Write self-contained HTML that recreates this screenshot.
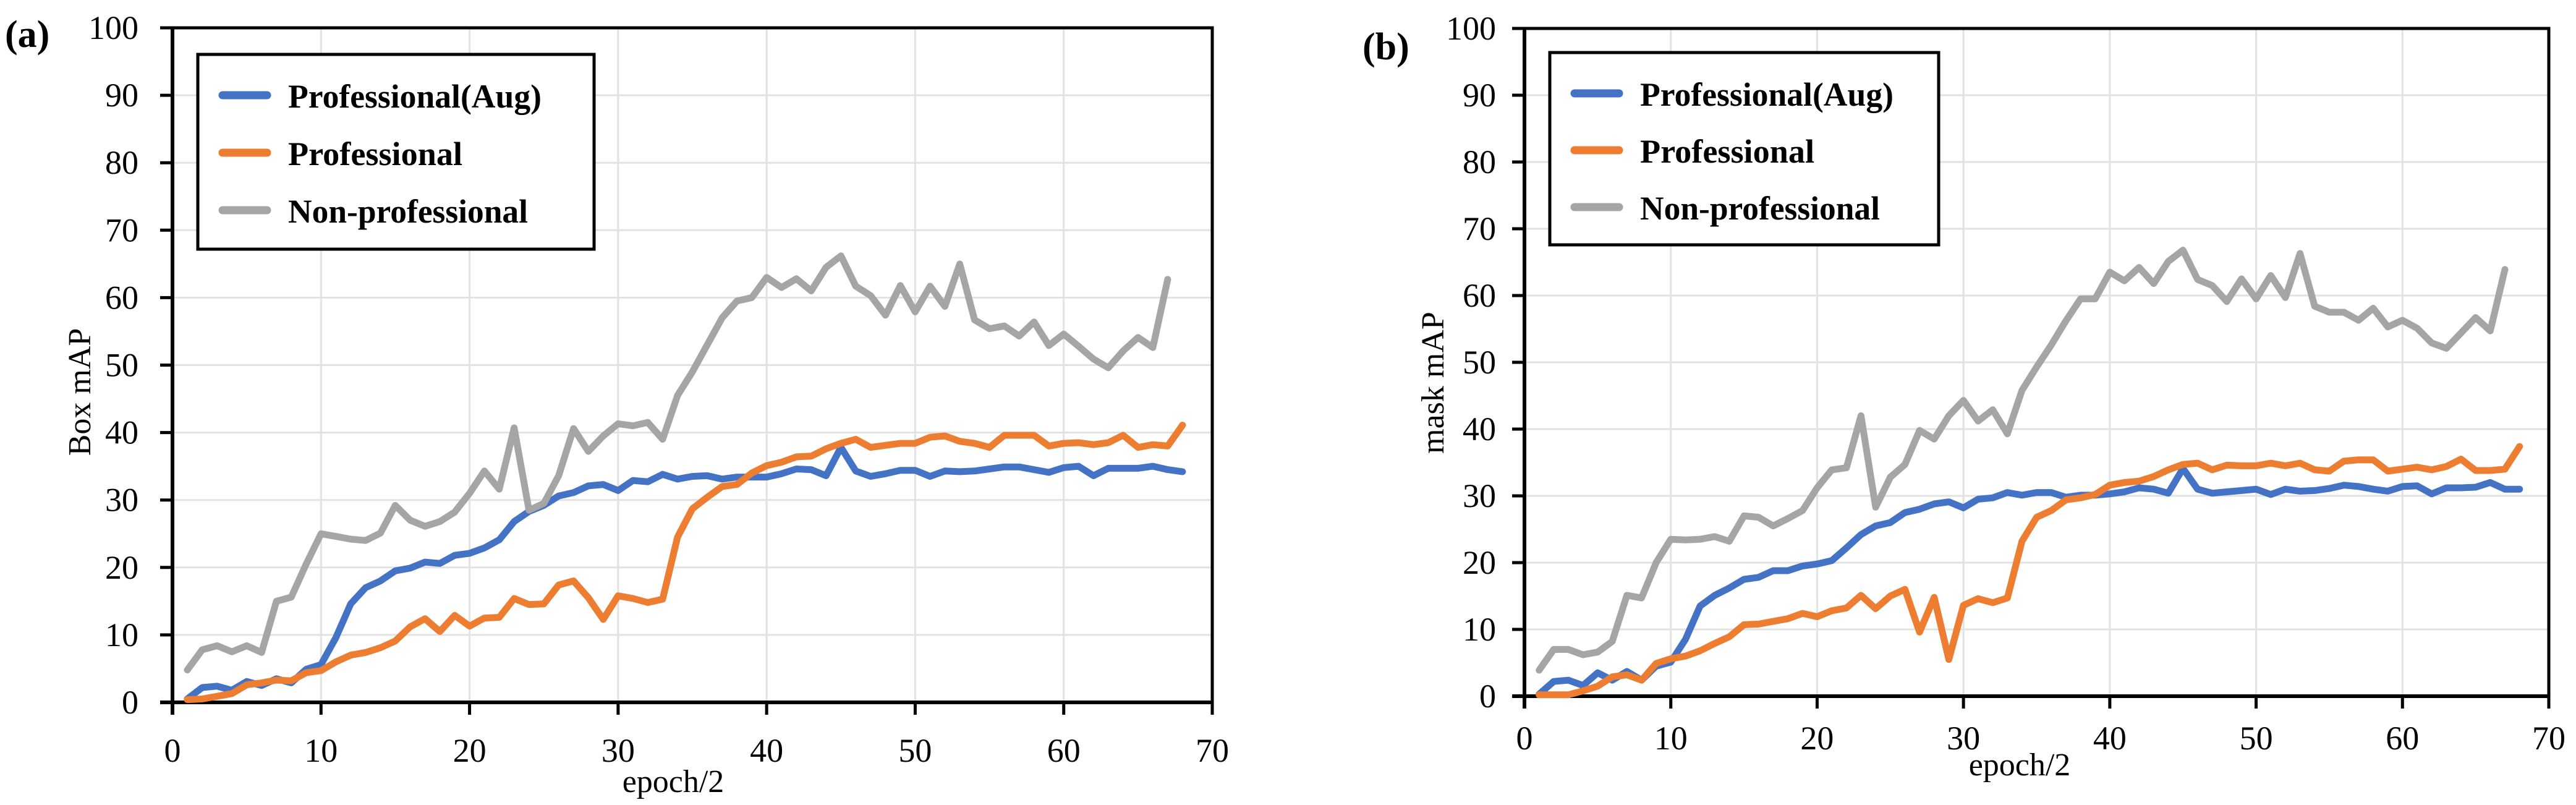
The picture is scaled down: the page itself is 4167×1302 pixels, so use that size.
<!DOCTYPE html>
<html><head><meta charset="utf-8">
<style>
html,body{margin:0;padding:0;background:#fff;}
svg{display:block;}
text{font-family:"Liberation Serif",serif;fill:#000;}
</style></head>
<body>
<svg id="fig" width="4167" height="1302" viewBox="0 0 4167 1302" xmlns="http://www.w3.org/2000/svg"></svg>
<script>
const xTicks=[0,10,20,30,40,50,60,70];
const yTicks=[0,10,20,30,40,50,60,70,80,90,100];
const seriesNames=["Professional(Aug)","Professional","Non-professional"];
const boxAug=[0.5,2.2,2.4,1.8,3.1,2.5,3.5,2.9,4.9,5.6,9.6,14.6,17,18,19.5,19.9,20.8,20.6,21.8,22.1,22.9,24.1,26.8,28.3,29.2,30.6,31.1,32.1,32.3,31.4,32.9,32.7,33.8,33.1,33.5,33.6,33.1,33.4,33.4,33.4,33.9,34.6,34.5,33.6,37.8,34.3,33.5,33.9,34.4,34.4,33.5,34.3,34.2,34.3,34.6,34.9,34.9,34.5,34.1,34.8,35.0,33.6,34.7,34.7,34.7,35.0,34.5,34.2];
const boxPro=[0.4,0.5,0.9,1.3,2.6,2.9,3.3,3.2,4.4,4.7,6,7,7.4,8.1,9.1,11.2,12.4,10.5,12.9,11.3,12.5,12.6,15.4,14.5,14.6,17.4,18,15.5,12.3,15.8,15.4,14.8,15.3,24.5,28.7,30.4,32,32.3,34,35.1,35.6,36.4,36.5,37.6,38.4,39.0,37.8,38.1,38.4,38.4,39.3,39.5,38.7,38.4,37.8,39.6,39.6,39.6,38.0,38.4,38.5,38.2,38.5,39.6,37.8,38.2,38.0,41.1];
const boxNon=[4.8,7.8,8.4,7.5,8.4,7.4,15,15.6,20.5,25,24.6,24.2,24,25.1,29.2,27,26.1,26.8,28.2,31,34.3,31.6,40.7,28.5,29.5,33.6,40.6,37.2,39.5,41.3,41,41.5,39,45.5,49,53,57,59.5,60,63,61.5,62.8,61,64.5,66.2,61.7,60.3,57.4,61.8,57.9,61.7,58.7,65.0,56.7,55.4,55.8,54.3,56.4,52.9,54.6,52.8,50.9,49.6,52.1,54.1,52.6,62.7];
const maskAug=[0.3,2.2,2.4,1.6,3.5,2.4,3.7,2.4,4.5,5.1,8.5,13.5,15.1,16.2,17.5,17.8,18.8,18.8,19.5,19.8,20.3,22.2,24.2,25.5,26,27.5,28,28.8,29.1,28.2,29.5,29.7,30.5,30.1,30.5,30.5,29.8,30.1,30.1,30.3,30.6,31.2,31.0,30.4,34.1,31.0,30.4,30.6,30.8,31.0,30.2,31.0,30.7,30.8,31.1,31.6,31.4,31.0,30.7,31.4,31.5,30.3,31.2,31.2,31.3,32.0,31.0,31.0];
const maskPro=[0.2,0.2,0.2,0.8,1.5,2.9,3.2,2.4,4.9,5.6,6,6.8,7.9,8.9,10.7,10.8,11.2,11.6,12.4,11.9,12.8,13.2,15.1,13.1,15,16,9.6,14.8,5.5,13.6,14.6,14,14.7,23.2,26.8,27.8,29.4,29.7,30.2,31.6,32,32.2,32.9,33.9,34.7,34.9,33.9,34.6,34.5,34.5,34.9,34.5,34.9,33.9,33.7,35.2,35.4,35.4,33.7,34.0,34.3,33.9,34.4,35.5,33.8,33.8,34.0,37.4];
const maskNon=[3.9,7,7,6.2,6.6,8.2,15.1,14.7,20,23.5,23.4,23.5,23.9,23.2,27,26.8,25.5,26.6,27.8,31.2,33.9,34.2,42,28.3,32.8,34.7,39.8,38.5,42,44.3,41.2,42.9,39.3,45.8,49.3,52.6,56.2,59.5,59.5,63.5,62.2,64.2,61.8,65.1,66.8,62.4,61.5,59.1,62.5,59.5,63.0,59.7,66.3,58.4,57.5,57.5,56.3,58.1,55.3,56.3,55.1,52.9,52.1,54.4,56.7,54.7,63.9];

const NS="http://www.w3.org/2000/svg";
const svg=document.getElementById('fig');
const colors=["#4472C4","#ED7D31","#A5A5A5"];
function mk(tag,attrs,parent){const e=document.createElementNS(NS,tag);for(const k in attrs)e.setAttribute(k,attrs[k]);(parent||svg).appendChild(e);return e;}

function chart(cfg){
  const g=mk('g',{});
  
  
  const X=v=>cfg.x0+(v-0)*(cfg.x1-cfg.x0)/70;
  const Y=v=>cfg.y0-(v)*(cfg.y0-cfg.y1)/100;
  // grid
  xTicks.forEach(t=>{if(t>0&&t<70){const l=mk('line',{x1:X(t),x2:X(t),y1:cfg.y1,y2:cfg.y0,stroke:'#e2e2e2','stroke-width':3},g);
    
    }});
  yTicks.forEach(t=>{if(t>0&&t<100){const l=mk('line',{x1:cfg.x0,x2:cfg.x1,y1:Y(t),y2:Y(t),stroke:'#e2e2e2','stroke-width':3},g);
    
    }});
  // frame
  const fr=mk('path',{d:`M${cfg.x0},${cfg.y1} H${cfg.x1} V${cfg.y0}`,fill:'none',stroke:'#000','stroke-width':5},g);
  
  
  // axes
  const ya=mk('line',{x1:cfg.x0,x2:cfg.x0,y1:cfg.y1-2,y2:cfg.y0+20,stroke:'#000','stroke-width':6},g);
  
  
  const xa=mk('line',{x1:cfg.x0-20,x2:cfg.x1,y1:cfg.y0,y2:cfg.y0,stroke:'#000','stroke-width':6},g);
  
  
  yTicks.forEach(t=>{
    const tk=mk('line',{x1:cfg.x0-20,x2:cfg.x0,y1:Y(t),y2:Y(t),stroke:'#000','stroke-width':5},g);
    
    
    const tx=mk('text',{x:cfg.ylabX,y:Y(t)+18,'text-anchor':'end','font-size':54},g);
    tx.textContent=t;
    
    
  });
  xTicks.forEach(t=>{
    const tk=mk('line',{x1:X(t),x2:X(t),y1:cfg.y0,y2:cfg.y0+20,stroke:'#000','stroke-width':5},g);
    
    
    const tx=mk('text',{x:X(t),y:cfg.xlabY,'text-anchor':'middle','font-size':54},g);
    tx.textContent=t;
    
    
  });
  // titles
  const xt=mk('text',{x:cfg.xtX,y:cfg.xtY,'text-anchor':'middle','font-size':52},g);
  xt.textContent='epoch/2';
  
  
  const yt=mk('text',{x:0,y:0,'text-anchor':'middle','font-size':52,transform:`translate(${cfg.ytX},${cfg.ytY}) rotate(-90)`},g);
  yt.textContent=cfg.ytitle;
  
  
  const pl=mk('text',{x:cfg.plX,y:cfg.plY,'font-size':62,'font-weight':'bold'},g);
  pl.textContent=cfg.panel;
  
  
  // series
  cfg.series.forEach((arr,i)=>{
    const pts=arr.map((v,j)=>X(j+1).toFixed(1)+','+Y(v).toFixed(1)).join(' ');
    const p=mk('polyline',{points:pts,fill:'none',stroke:colors[i],'stroke-width':11,'stroke-linejoin':'round','stroke-linecap':'round'},g);
    
    
  });
  // legend
  const L=cfg.leg;
  const lg=mk('g',{},g);
  
  
  mk('rect',{x:L.x,y:L.y,width:L.w,height:L.h,fill:'#fff',stroke:'#000','stroke-width':5},lg);
  seriesNames.forEach((n,i)=>{
    const ly=L.y+66+i*L.dy;
    const ll=mk('line',{x1:L.x+40,x2:L.x+112,y1:ly,y2:ly,stroke:colors[i],'stroke-width':13,'stroke-linecap':'round'},lg);
    
    
    const lt=mk('text',{x:L.x+146,y:ly+20,'font-size':54,'font-weight':'bold'},lg);
    lt.textContent=n;
    
    
    lt.setAttribute('textLength',[410,282,388][i]);
    lt.setAttribute('lengthAdjust','spacingAndGlyphs');
  });
}
chart({name:'box-map-chart',x0:279,x1:1961,y0:1136,y1:45,ylabX:224,xlabY:1232,xtX:1089,xtY:1281,ytX:146,ytY:634,ytitle:'Box mAP',panel:'(a)',plX:8,plY:76,
  series:[boxAug,boxPro,boxNon],leg:{x:320,y:88,w:641,h:315,dy:93}});
chart({name:'mask-map-chart',x0:2466,x1:4123,y0:1126,y1:46,ylabX:2420,xlabY:1212,xtX:3267,xtY:1254,ytX:2335,ytY:619,ytitle:'mask mAP',panel:'(b)',plX:2204,plY:96,
  series:[maskAug,maskPro,maskNon],leg:{x:2507,y:85,w:629,h:311,dy:92}});
</script>
</body></html>
